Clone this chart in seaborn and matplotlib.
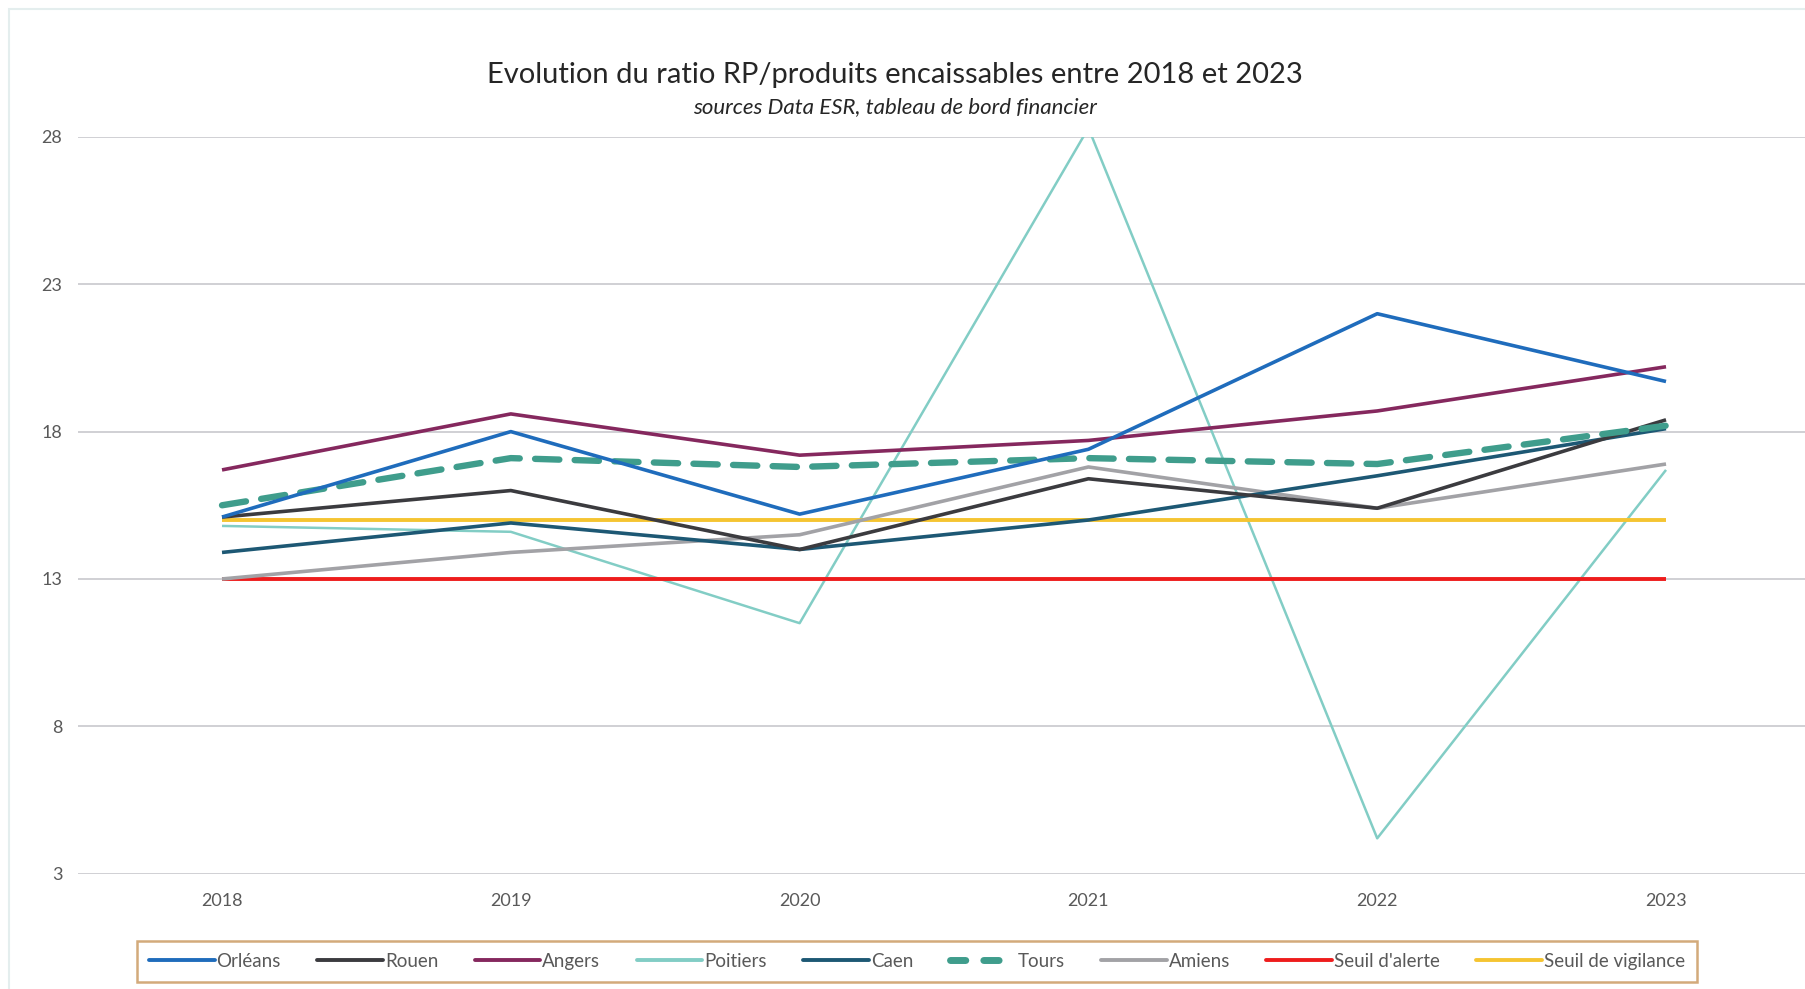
import matplotlib
matplotlib.use('Agg')
from matplotlib.lines import Line2D
from matplotlib.patches import Rectangle
import matplotlib.pyplot as plt
import numpy as np
import pandas as pd
import seaborn as sns

YEARS = ['2018', '2019', '2020', '2021', '2022', '2023']
ORLEANS = [15.1, 18.0, 15.2, 17.4, 22.0, 19.7]
ROUEN = [15.1, 16.0, 14.0, 16.4, 15.4, 18.4]
ANGERS = [16.7, 18.6, 17.2, 17.7, 18.7, 20.2]
POITIERS = [14.8, 14.6, 11.5, 28.3, 4.2, 16.7]
CAEN = [13.9, 14.9, 14.0, 15.0, 16.5, 18.1]
TOURS = [15.5, 17.1, 16.8, 17.1, 16.9, 18.2]
AMIENS = [13.0, 13.9, 14.5, 16.8, 15.4, 16.9]
SEUIL_ALERTE = [13, 13, 13, 13, 13, 13]
SEUIL_VIGILANCE = [15, 15, 15, 15, 15, 15]
Y_TICKS = [3, 8, 13, 18, 23, 28]

SERIES = [
    ('Orléans', ORLEANS, '#1f6cbc', 2.6),
    ('Rouen', ROUEN, '#3b3b3f', 2.6),
    ('Angers', ANGERS, '#85285e', 2.6),
    ('Poitiers', POITIERS, '#82cdc5', 1.8),
    ('Caen', CAEN, '#1d5874', 2.6),
    ('Tours', TOURS, '#3f9d8c', 4.6),
    ('Amiens', AMIENS, '#a2a2a6', 2.6),
    ("Seuil d'alerte", SEUIL_ALERTE, '#ee1c1c', 2.8),
    ('Seuil de vigilance', SEUIL_VIGILANCE, '#f5c431', 2.8),
]


def main():
    sns.set_theme(style='white')
    plt.rcParams['font.family'] = ['Lato', 'DejaVu Sans']

    fig = plt.figure(figsize=(18.05, 9.89), dpi=100)
    fig.patch.set_facecolor('white')
    fig.patches.append(Rectangle((9 / 1805, -0.1), 1.2, 1.1 - 9 / 989,
                                 transform=fig.transFigure, fill=False,
                                 edgecolor='#e4eeee', lw=1.5))

    ax = fig.add_axes([0.043, 0.1166, 0.96, 0.745])
    x = np.arange(len(YEARS))

    draw_order = ['Poitiers', 'Seuil de vigilance', "Seuil d'alerte", 'Amiens',
                  'Caen', 'Rouen', 'Tours', 'Angers', 'Orléans']
    lookup = {name: (vals, color, lw) for name, vals, color, lw in SERIES}
    for name in draw_order:
        vals, color, lw = lookup[name]
        df = pd.DataFrame({'x': x, 'y': vals})
        sns.lineplot(data=df, x='x', y='y', ax=ax, color=color, lw=lw,
                     legend=False)
        line = ax.lines[-1]
        line.set_solid_capstyle('butt')
        if name == 'Tours':
            line.set_dashes((3.8, 2.4))
            line.set_dash_capstyle('round')

    ax.set_xlim(-0.5, len(YEARS) - 0.5)
    ax.set_ylim(3, 28)
    ax.set_yticks(Y_TICKS)
    ax.set_xticks(x)
    ax.set_xticklabels(YEARS)
    ax.grid(axis='y', color='#d0d0d4', lw=1.4)
    ax.set_axisbelow(True)
    for s in ax.spines.values():
        s.set_visible(False)
    ax.tick_params(axis='both', length=0, labelsize=13, colors='#595959')
    ax.tick_params(axis='y', pad=11)
    ax.tick_params(axis='x', pad=14)
    ax.set_xlabel('')
    ax.set_ylabel('')

    fig.text(0.496, 0.924, 'Evolution du ratio RP/produits encaissables entre 2018 et 2023',
             ha='center', va='center', fontsize=21, color='#262626')
    fig.text(0.496, 0.892, 'sources Data ESR, tableau de bord financier',
             ha='center', va='center', fontsize=16, style='italic', color='#262626')

    handles = []
    for name, vals, color, lw in SERIES:
        if name == 'Tours':
            h = Line2D([], [], color=color, lw=5, dashes=(2.2, 2.6),
                       dash_capstyle='round')
        else:
            h = Line2D([], [], color=color, lw=2.8)
        handles.append(h)
    leg = fig.legend(handles, [s[0] for s in SERIES], loc='center',
                     bbox_to_anchor=(0.508, 0.0278), ncol=len(SERIES),
                     frameon=True, fancybox=False, fontsize=13.5,
                     handlelength=3.5, handletextpad=0.1, columnspacing=1.95,
                     borderpad=0.65)
    leg.get_frame().set_edgecolor('#c8955a')
    leg.get_frame().set_linewidth(1.8)
    for t in leg.get_texts():
        t.set_color('#595959')

    fig.savefig('out.png', dpi=100, facecolor='white')


if __name__ == '__main__':
    main()
